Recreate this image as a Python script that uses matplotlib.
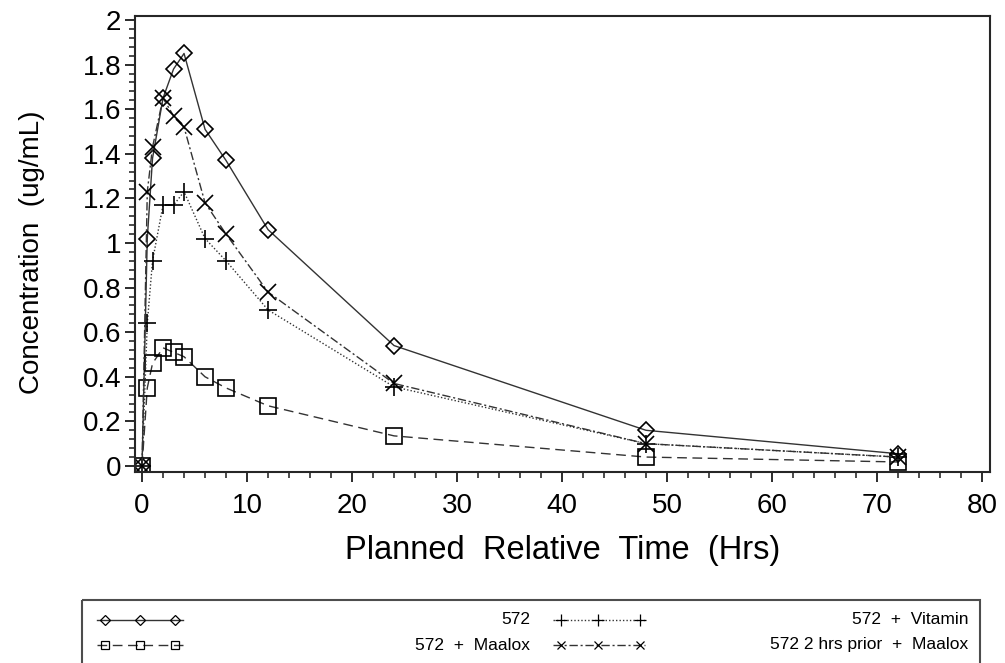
import matplotlib
matplotlib.use("Agg")
import matplotlib.pyplot as plt
from matplotlib.lines import Line2D
from matplotlib.patches import Rectangle
from matplotlib.ticker import MultipleLocator, FuncFormatter

plt.rcParams['font.family'] = ['Liberation Sans', 'DejaVu Sans']

time_hrs = [0, 0.5, 1, 2, 3, 4, 6, 8, 12, 24, 48, 72]
conc_572 = [0, 1.02, 1.38, 1.65, 1.78, 1.85, 1.51, 1.37, 1.06, 0.54, 0.16, 0.055]
conc_maalox = [0, 0.35, 0.46, 0.53, 0.51, 0.49, 0.40, 0.35, 0.27, 0.135, 0.04, 0.018]
conc_vitamin = [0, 0.64, 0.92, 1.17, 1.17, 1.23, 1.02, 0.92, 0.70, 0.355, 0.10, 0.04]
conc_prior = [0, 1.23, 1.43, 1.65, 1.57, 1.52, 1.18, 1.04, 0.78, 0.37, 0.10, 0.04]

series_labels = ['572', '572  +  Maalox', '572  +  Vitamin', '572 2 hrs prior  +  Maalox']

W, H = 1005, 663
fig = plt.figure(figsize=(W / 100, H / 100), dpi=100)

L, T, R, B = 135, 16, 990, 472
ax = fig.add_axes([L / W, 1 - B / H, (R - L) / W, (B - T) / H])

lc = '0.2'
styles = [
    dict(marker='D', ms=8, linestyle='-'),
    dict(marker='s', ms=11, linestyle=(0, (7, 4))),
    dict(marker='+', ms=13, linestyle=(0, (1, 1.5))),
    dict(marker='x', ms=11, linestyle=(0, (6, 2, 1.5, 2))),
]
data = [conc_572, conc_maalox, conc_vitamin, conc_prior]
for y, st in zip(data, styles):
    ax.plot(time_hrs, y, color=lc, lw=1.0, marker=st['marker'], ms=st['ms'],
            linestyle=st['linestyle'], mfc='none', mec='black', mew=1.2)

ax.set_xlim(-0.67, 80.76)
ax.set_ylim(-0.027, 2.018)
ax.xaxis.set_major_locator(MultipleLocator(10))
ax.xaxis.set_minor_locator(MultipleLocator(2))
ax.yaxis.set_major_locator(MultipleLocator(0.2))
ax.yaxis.set_minor_locator(MultipleLocator(0.04))
ax.yaxis.set_major_formatter(FuncFormatter(lambda v, p: '%g' % round(v, 2)))
ax.tick_params(axis='both', which='major', direction='out', length=7, width=1.3,
               labelsize=20, color='0.1')
ax.tick_params(axis='both', which='minor', direction='out', length=4, width=1.1, color='0.1')
ax.tick_params(axis='x', pad=8)
ax.tick_params(axis='y', pad=3)
for s in ax.spines.values():
    s.set_linewidth(1.5)
    s.set_color('0.15')

ax.set_xlabel('Planned  Relative  Time  (Hrs)', fontsize=23.5, labelpad=12)
ax.set_ylabel('Concentration  (ug/mL)', fontsize=20)
ax.yaxis.set_label_coords(-0.105, 0.482)

# legend
lax = fig.add_axes([0, 0, 1, 1], zorder=-1)
lax.set_xlim(0, W)
lax.set_ylim(H, 0)
lax.axis('off')
lax.add_patch(Rectangle((82, 600), 980 - 82, 80, fill=False, ec='0.3', lw=1.5, clip_on=False))

leg_line = [(97, 183), (97, 183), (553, 645), (553, 645)]
leg_mk = [(105, 140, 175), (105, 140, 175), (561, 598, 640), (561, 598, 640)]
leg_y = [620, 645, 620, 645]
leg_xr = [530, 530, 968, 968]
leg_ms = [5, 6, 8, 6]
for (x0, x1), mks, yy, xr, ms, st, lab in zip(leg_line, leg_mk, leg_y, leg_xr, leg_ms, styles, series_labels):
    lax.add_line(Line2D([x0, x1], [yy, yy], color=lc, lw=1.0, linestyle=st['linestyle']))
    lax.add_line(Line2D(list(mks), [yy] * 3, linestyle='none', marker=st['marker'], ms=ms,
                        mfc='none', mec='black', mew=0.9))
    lax.text(xr, yy, lab, ha='right', va='center', fontsize=12.5)

fig.savefig('out.png', dpi=100)
